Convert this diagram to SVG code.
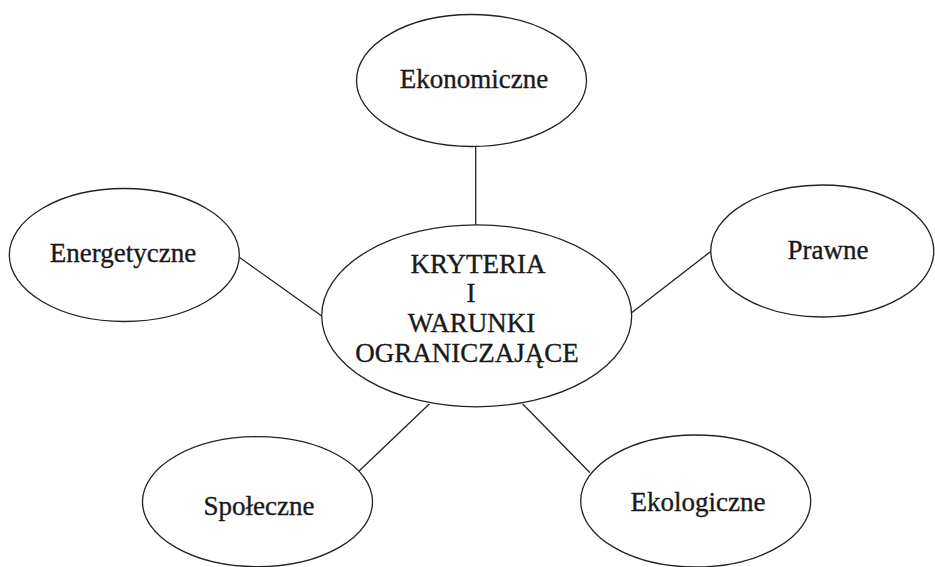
<svg xmlns="http://www.w3.org/2000/svg" width="935" height="567" viewBox="0 0 935 567">
<style>
.n{fill:#fff;stroke:#222;stroke-width:1.3}
.c{stroke:#222;stroke-width:1.3;fill:none}
text{font-family:"Liberation Serif","Times New Roman",serif;font-size:27px;fill:#1a1a1a;stroke:#1a1a1a;stroke-width:0.35;text-anchor:middle}
</style>
<rect width="935" height="567" fill="#fff"/>
<g id="connectors">
<line class="c" x1="475.7" y1="146.7" x2="475.7" y2="225"/>
<line class="c" x1="239.3" y1="257.3" x2="321.7" y2="316"/>
<line class="c" x1="630" y1="314" x2="711.7" y2="250.7"/>
<line class="c" x1="429.3" y1="404" x2="358.3" y2="471.7"/>
<line class="c" x1="522.7" y1="404" x2="590" y2="472.7"/>
</g>
<g id="center">
<ellipse class="n" cx="476.7" cy="315.8" rx="155" ry="91"/>
<text x="478" y="272.7">KRYTERIA</text>
<text x="471" y="301.7">I</text>
<text x="471.5" y="331.7">WARUNKI</text>
<text x="467" y="361.7">OGRANICZAJĄCE</text>
</g>
<g id="ekonomiczne">
<ellipse class="n" cx="471.5" cy="80.5" rx="115" ry="66"/>
<text x="474" y="88">Ekonomiczne</text>
</g>
<g id="energetyczne">
<ellipse class="n" cx="124.3" cy="255" rx="115" ry="66.5"/>
<text x="123" y="261.7">Energetyczne</text>
</g>
<g id="prawne">
<ellipse class="n" cx="822.3" cy="251" rx="111.5" ry="66"/>
<text x="828" y="259.3">Prawne</text>
</g>
<g id="spoleczne">
<ellipse class="n" cx="257.5" cy="501.7" rx="115" ry="65"/>
<text x="259" y="515">Społeczne</text>
</g>
<g id="ekologiczne">
<ellipse class="n" cx="695.7" cy="501" rx="115" ry="66"/>
<text x="698" y="511">Ekologiczne</text>
</g>
</svg>
